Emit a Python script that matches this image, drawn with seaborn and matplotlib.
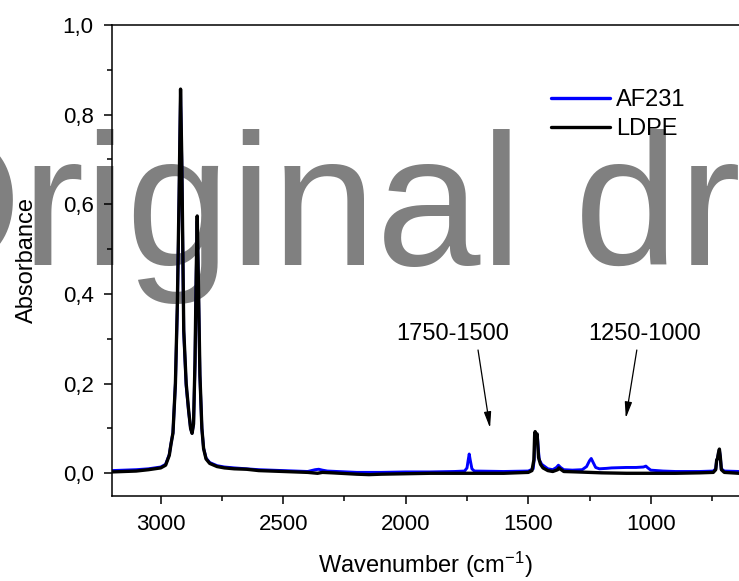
import pandas as pd
import seaborn as sns
import matplotlib.pyplot as plt
from matplotlib.ticker import MultipleLocator, FuncFormatter

# AF231 spectrum (blue)
af231_wn = [3200, 3100, 3050, 3000, 2980, 2965, 2958, 2950, 2940, 2932, 2925, 2919,
            2914, 2906, 2896, 2886, 2878, 2872, 2866, 2860, 2855, 2851, 2846, 2840,
            2832, 2825, 2815, 2800, 2770, 2740, 2700, 2650, 2600, 2500, 2400, 2370,
            2355, 2340, 2320, 2200, 2100, 2000, 1900, 1800, 1760, 1750, 1745, 1741,
            1737, 1730, 1720, 1600, 1500, 1480, 1476, 1473, 1470, 1467, 1463, 1460,
            1455, 1445, 1420, 1400, 1385, 1377, 1368, 1355, 1320, 1280, 1262, 1250,
            1243, 1236, 1225, 1210, 1180, 1160, 1100, 1060, 1030, 1020, 1012, 1000,
            950, 900, 800, 745, 735, 731, 728, 724, 720, 716, 712, 700, 640]
af231_abs = [0.006, 0.008, 0.010, 0.014, 0.020, 0.042, 0.066, 0.090, 0.200, 0.370, 0.610, 0.845,
             0.690, 0.315, 0.195, 0.138, 0.100, 0.090, 0.110, 0.245, 0.440, 0.562, 0.410, 0.215,
             0.100, 0.056, 0.034, 0.024, 0.017, 0.014, 0.012, 0.010, 0.008, 0.006, 0.004, 0.008,
             0.009, 0.007, 0.005, 0.002, 0.002, 0.003, 0.003, 0.004, 0.005, 0.012, 0.030, 0.043,
             0.030, 0.010, 0.005, 0.004, 0.005, 0.010, 0.030, 0.085, 0.090, 0.080, 0.086, 0.060,
             0.030, 0.020, 0.010, 0.008, 0.013, 0.018, 0.013, 0.008, 0.007, 0.008, 0.015, 0.028,
             0.033, 0.025, 0.013, 0.010, 0.011, 0.012, 0.013, 0.013, 0.014, 0.016, 0.012, 0.007,
             0.005, 0.004, 0.004, 0.005, 0.010, 0.030, 0.032, 0.044, 0.052, 0.035, 0.010, 0.005, 0.004]

# LDPE spectrum (black)
ldpe_wn = [3200, 3100, 3050, 3000, 2980, 2965, 2958, 2950, 2940, 2932, 2925, 2919,
           2914, 2906, 2896, 2886, 2878, 2872, 2866, 2860, 2855, 2851, 2846, 2840,
           2832, 2825, 2815, 2800, 2770, 2740, 2700, 2650, 2600, 2500, 2400, 2360,
           2340, 2300, 2200, 2150, 2100, 2000, 1900, 1800, 1700, 1600, 1500, 1485,
           1477, 1474, 1472, 1468, 1464, 1462, 1458, 1450, 1440, 1420, 1400, 1380,
           1375, 1368, 1355, 1300, 1250, 1200, 1100, 1000, 900, 800, 745, 735,
           731, 728, 724, 720, 716, 712, 700, 640]
ldpe_abs = [0.003, 0.005, 0.008, 0.012, 0.018, 0.040, 0.065, 0.090, 0.200, 0.380, 0.620, 0.857,
            0.700, 0.320, 0.200, 0.140, 0.100, 0.089, 0.110, 0.250, 0.450, 0.574, 0.420, 0.220,
            0.100, 0.055, 0.032, 0.022, 0.015, 0.012, 0.010, 0.009, 0.006, 0.004, 0.002, 0.000,
            0.002, 0.001, -0.002, -0.003, -0.002, -0.001, 0.000, 0.000, 0.000, 0.000, 0.002, 0.006,
            0.030, 0.085, 0.093, 0.080, 0.088, 0.070, 0.035, 0.020, 0.012, 0.006, 0.004, 0.008,
            0.012, 0.009, 0.004, 0.003, 0.002, 0.001, 0.000, 0.000, 0.000, 0.001, 0.002, 0.008,
            0.030, 0.032, 0.045, 0.054, 0.035, 0.008, 0.002, 0.000]

series_names = ["AF231", "LDPE"]
series_colors = ["#0000ff", "#000000"]

df = pd.concat([
    pd.DataFrame({"wn": af231_wn, "abs": af231_abs, "sample": "AF231"}),
    pd.DataFrame({"wn": ldpe_wn, "abs": ldpe_abs, "sample": "LDPE"}),
])

sns.set_theme(style="ticks")
plt.rcParams["font.family"] = ["Liberation Sans", "DejaVu Sans"]
plt.rcParams["mathtext.default"] = "regular"
for key in ["text.color", "axes.labelcolor", "xtick.color", "ytick.color", "axes.edgecolor"]:
    plt.rcParams[key] = "black"

fig = plt.figure(figsize=(7.39, 5.81), dpi=100)
ax = fig.add_axes([111.7 / 739, 1 - 495.7 / 581, 1 - 111.7 / 739, (495.7 - 25) / 581])

sns.lineplot(data=df, x="wn", y="abs", hue="sample", hue_order=series_names,
             palette=series_colors, estimator=None, sort=True, ax=ax, legend=False)
for line, lw in zip(ax.get_lines(), [2.1, 2.4]):
    line.set_linewidth(lw)
    line.set_solid_joinstyle("round")

# watermark behind the data and the axis texts
ax.text(-124 / 739, 1 - 265 / 581, "Original dr", transform=fig.transFigure,
        fontsize=135, color="#808080", va="baseline", ha="left",
        zorder=0.2, clip_on=False)

ax.set_xlim(3200, 640)
ax.set_ylim(-0.05, 1.0)
ax.xaxis.set_major_locator(MultipleLocator(500))
ax.xaxis.set_minor_locator(MultipleLocator(250))
ax.yaxis.set_major_locator(MultipleLocator(0.2))
ax.yaxis.set_minor_locator(MultipleLocator(0.1))
ax.yaxis.set_major_formatter(FuncFormatter(lambda v, p: f"{v:.1f}".replace(".", ",")))
ax.tick_params(which="major", direction="out", length=6, width=1.1, labelsize=16)
ax.tick_params(axis="x", which="major", pad=7)
ax.tick_params(axis="y", which="major", pad=7)
ax.tick_params(which="minor", direction="out", length=3.5, width=1.1)
ax.xaxis.set_zorder(0.5)
ax.yaxis.set_zorder(0.5)

for side in ["left", "bottom", "top"]:
    ax.spines[side].set_linewidth(1.1)
ax.spines["right"].set_visible(False)

ax.set_xlabel("Wavenumber (cm$^{-1}$)", fontsize=17, labelpad=11)
ax.set_ylabel("Absorbance", fontsize=17, labelpad=18)

# legend
handles = [plt.Line2D([], [], color=c, lw=2.4) for c in series_colors]
ax.legend(handles, series_names, loc="center left", bbox_to_anchor=(0.701, 0.809),
          frameon=False, fontsize=17, handlelength=2.5, handletextpad=0.25,
          labelspacing=0.3, borderpad=0, borderaxespad=0)

# region annotations
arrow = dict(arrowstyle="-|>,head_length=0.8,head_width=0.18", color="black", lw=0.9,
             shrinkA=0, shrinkB=0)
ax.annotate("", xy=(1656, 0.101), xytext=(1705, 0.275), arrowprops=arrow)
ax.annotate("", xy=(1102, 0.123), xytext=(1057, 0.275), arrowprops=arrow)
ax.text(1807, 0.311, "1750-1500", fontsize=17, ha="center", va="center")
ax.text(1024, 0.311, "1250-1000", fontsize=17, ha="center", va="center")

fig.savefig("out.png", dpi=100)
